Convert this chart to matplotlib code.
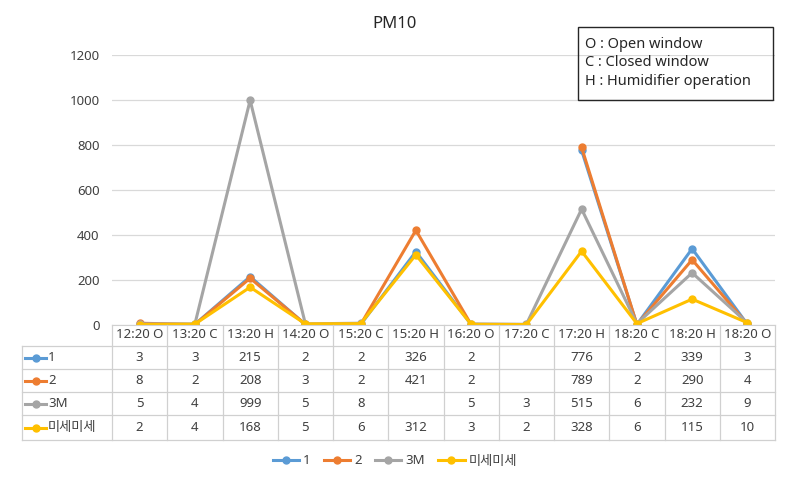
import numpy as np
import matplotlib.pyplot as plt
from matplotlib.lines import Line2D
from matplotlib.patches import Rectangle

plt.rcParams['font.family'] = ['Noto Sans', 'Noto Sans CJK KR', 'DejaVu Sans']

categories = ["12:20 O", "13:20 C", "13:20 H", "14:20 O", "15:20 C", "15:20 H",
              "16:20 O", "17:20 C", "17:20 H", "18:20 C", "18:20 H", "18:20 O"]
series_names = ["1", "2", "3M", "미세미세"]
s1 = [3, 3, 215, 2, 2, 326, 2, np.nan, 776, 2, 339, 3]
s2 = [8, 2, 208, 3, 2, 421, 2, np.nan, 789, 2, 290, 4]
s3 = [5, 4, 999, 5, 8, np.nan, 5, 3, 515, 6, 232, 9]
s4 = [2, 4, 168, 5, 6, 312, 3, 2, 328, 6, 115, 10]
colors = ["#5B9BD5", "#ED7D31", "#A5A5A5", "#FFC000"]
yticks = [0, 200, 400, 600, 800, 1000, 1200]

W, H = 790, 482
txt = "#404040"
fs = 9.5
fig = plt.figure(figsize=(W / 100, H / 100), dpi=100)
ax = fig.add_axes([112 / W, 1 - 325 / H, (775 - 112) / W, (325 - 55) / H])

x = np.arange(len(categories))
all_series = [s1, s2, s3, s4]
for vals, name, c in zip(all_series, series_names, colors):
    ax.plot(x, vals, color=c, lw=2.2, marker="o", ms=5, label=name,
            solid_joinstyle="round")

ax.set_xlim(-0.5, len(categories) - 0.5)
ax.set_ylim(0, 1200)
ax.set_yticks(yticks)
ax.set_yticklabels([str(v) for v in yticks], fontsize=fs, color=txt)
ax.tick_params(axis="y", length=0, pad=9)
ax.set_xticks([])
for s in ["top", "right", "left"]:
    ax.spines[s].set_visible(False)
ax.spines["bottom"].set_color("#d0d0d0")
ax.grid(axis="y", color="#d9d9d9", lw=0.9)
ax.set_axisbelow(True)

fig.text(0.5, 1 - 24 / H, "PM10", ha="center", va="center", fontsize=12,
         color="#262626")

# data table under the plot
line_kw = dict(color="#d0d0d0", lw=0.9, clip_on=False)
px = lambda v: (v - 112) / (775 - 112)          # pixel x -> axes fraction
py = lambda v: (325 - v) / (325 - 55)           # pixel y -> axes fraction
row_edges = [346, 369, 392, 415, 440]
tr = ax.transAxes
xtr = ax.get_xaxis_transform()
for i in range(len(categories) + 1):
    xp = i / len(categories)
    ax.add_line(Line2D([xp, xp], [py(325), py(440)], transform=tr, **line_kw))
for i, cat in enumerate(categories):
    ax.text(i, py(335), cat, transform=xtr, ha="center", va="center",
            fontsize=fs, color=txt, clip_on=False)
for yy in row_edges:
    ax.add_line(Line2D([px(22), 1], [py(yy), py(yy)], transform=tr, **line_kw))
ax.add_line(Line2D([px(22), px(22)], [py(346), py(440)], transform=tr, **line_kw))

for r, (vals, name, c) in enumerate(zip(all_series, series_names, colors)):
    yc = py((row_edges[r] + row_edges[r + 1]) / 2)
    ax.add_line(Line2D([px(25), px(46)], [yc, yc], transform=tr, color=c, lw=2.2,
                       clip_on=False))
    ax.add_line(Line2D([px(35.5)], [yc], transform=tr, color=c, marker="o", ms=5,
                       clip_on=False))
    ax.text(px(48), yc, name, transform=tr, ha="left", va="center", fontsize=fs,
            color=txt, clip_on=False)
    for i, v in enumerate(vals):
        if not np.isnan(v):
            ax.text(i, yc, str(int(v)), transform=xtr, ha="center", va="center",
                    fontsize=fs, color=txt, clip_on=False)

# note box
fig.patches.append(Rectangle((578 / W, 1 - 100 / H), 195 / W, 73 / H,
                             transform=fig.transFigure, fill=False,
                             ec="#262626", lw=1.0))
notes = ["O : Open window", "C : Closed window", "H : Humidifier operation"]
for k, t in enumerate(notes):
    fig.text(585 / W, 1 - (45 + 18 * k) / H, t, ha="left", va="center",
             fontsize=10.5, color="#262626")

fig.legend(loc="center", bbox_to_anchor=(0.5, 1 - 461 / H), ncol=4,
           frameon=False, fontsize=fs, handlelength=2.0, columnspacing=1.0,
           handletextpad=0.3, labelcolor=txt)

fig.savefig("out.png", dpi=100)
